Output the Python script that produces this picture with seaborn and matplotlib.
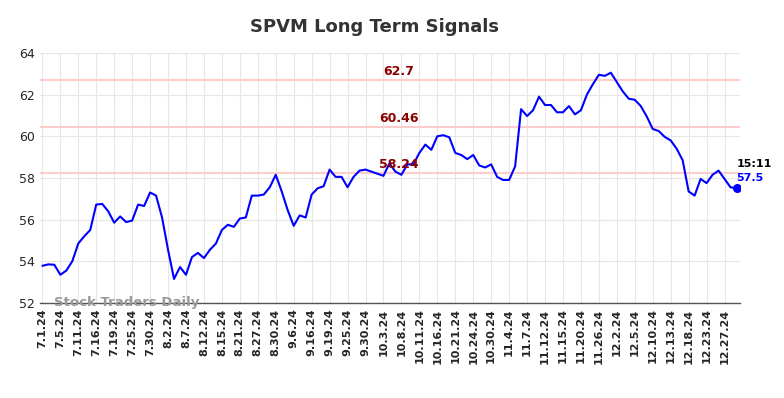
import numpy as np
import pandas as pd
import matplotlib
matplotlib.use("Agg")
import matplotlib.pyplot as plt
import seaborn as sns

# ===================== DATA =====================
tick_labels = [
    "7.1.24", "7.5.24", "7.11.24", "7.16.24", "7.19.24", "7.25.24", "7.30.24",
    "8.2.24", "8.7.24", "8.12.24", "8.15.24", "8.21.24", "8.27.24", "8.30.24",
    "9.6.24", "9.16.24", "9.19.24", "9.25.24", "9.30.24", "10.3.24", "10.8.24",
    "10.11.24", "10.16.24", "10.21.24", "10.24.24", "10.30.24", "11.4.24",
    "11.7.24", "11.12.24", "11.15.24", "11.20.24", "11.26.24", "12.2.24",
    "12.5.24", "12.10.24", "12.13.24", "12.18.24", "12.23.24", "12.27.24",
]

prices = [
    53.78, 53.85, 53.83, 53.35, 53.55, 54.00, 54.85, 55.20, 55.50, 56.72,
    56.75, 56.40, 55.85, 56.15, 55.88, 55.95, 56.72, 56.65, 57.30, 57.15,
    56.10, 54.55, 53.15, 53.72, 53.35, 54.20, 54.40, 54.15, 54.55, 54.85,
    55.50, 55.75, 55.65, 56.05, 56.10, 57.15, 57.15, 57.20, 57.55, 58.15,
    57.35, 56.45, 55.70, 56.20, 56.10, 57.20, 57.50, 57.60, 58.40, 58.05,
    58.05, 57.55, 58.05, 58.35, 58.40, 58.30, 58.20, 58.10, 58.70, 58.30,
    58.15, 58.65, 58.65, 59.20, 59.60, 59.35, 60.00, 60.05, 59.95, 59.20,
    59.10, 58.90, 59.10, 58.60, 58.50, 58.65, 58.05, 57.90, 57.90, 58.55,
    61.30, 60.97, 61.25, 61.90, 61.50, 61.50, 61.15, 61.15, 61.45, 61.05,
    61.25, 62.00, 62.50, 62.95, 62.90, 63.05, 62.60, 62.15, 61.80, 61.75,
    61.45, 60.95, 60.35, 60.25, 59.97, 59.80, 59.40, 58.85, 57.35, 57.15,
    57.95, 57.75, 58.15, 58.35, 57.95, 57.55, 57.50,
]

signal_levels = [62.7, 60.46, 58.24]
signal_texts = ["62.7", "60.46", "58.24"]
last_time = "15:11"
last_value_text = "57.5"

df = pd.DataFrame({"idx": np.arange(len(prices)), "price": prices})

# ===================== STYLE =====================
sns.set_style("whitegrid", {"grid.color": "#e6e6e6"})
plt.rcParams["font.family"] = ["DejaVu Sans"]

fig = plt.figure(figsize=(7.84, 3.98), dpi=100)
ax = fig.add_axes([0.051, 0.239, 0.893, 0.628])

# ===================== SIGNAL LINES =====================
mid_x = 59.6
for level, txt in zip(signal_levels, signal_texts):
    ax.axhline(level, color="#ffcccc", lw=1.5, zorder=1)
    ax.text(mid_x, level + 0.08, txt, color="#8b0000", fontsize=9,
            fontweight="bold", ha="center", va="bottom", zorder=3)

# ===================== PRICE LINE =====================
sns.lineplot(data=df, x="idx", y="price", color="#0000ff", lw=1.5, ax=ax, zorder=2)
ax.scatter(df["idx"].iloc[-1], df["price"].iloc[-1], s=30, color="#0000ff", zorder=4)

ax.text(df["idx"].iloc[-1], df["price"].iloc[-1] + 1.15, last_time, fontsize=8,
        fontweight="bold", color="black", ha="left", va="center")
ax.text(df["idx"].iloc[-1], df["price"].iloc[-1] + 0.48, last_value_text, fontsize=8,
        fontweight="bold", color="#0000ff", ha="left", va="center")

ax.text(2, 52.0, "Stock Traders Daily", fontsize=9.5, fontweight="bold",
        color="#999999", ha="left", va="center", zorder=3)

# ===================== AXES =====================
ax.set_ylim(52, 64)
ax.set_yticks(np.arange(52, 65, 2))
ax.set_xlim(-0.4, len(prices) - 0.4)
ax.set_xticks(np.arange(len(tick_labels)) * 3)
ax.set_xticklabels(tick_labels, rotation=90, fontsize=8, fontweight="bold")
ax.tick_params(axis="y", labelsize=9, length=0)
ax.tick_params(axis="x", length=0, pad=4)
ax.set_xlabel("")
ax.set_ylabel("")

for side in ["top", "right", "left"]:
    ax.spines[side].set_visible(False)
ax.spines["bottom"].set_color("#555555")
ax.spines["bottom"].set_linewidth(1)

fig.suptitle("SPVM Long Term Signals", fontsize=13, fontweight="bold",
             color="#333333", x=0.478, y=0.955)

plt.savefig("out.png", dpi=100)
plt.close()
